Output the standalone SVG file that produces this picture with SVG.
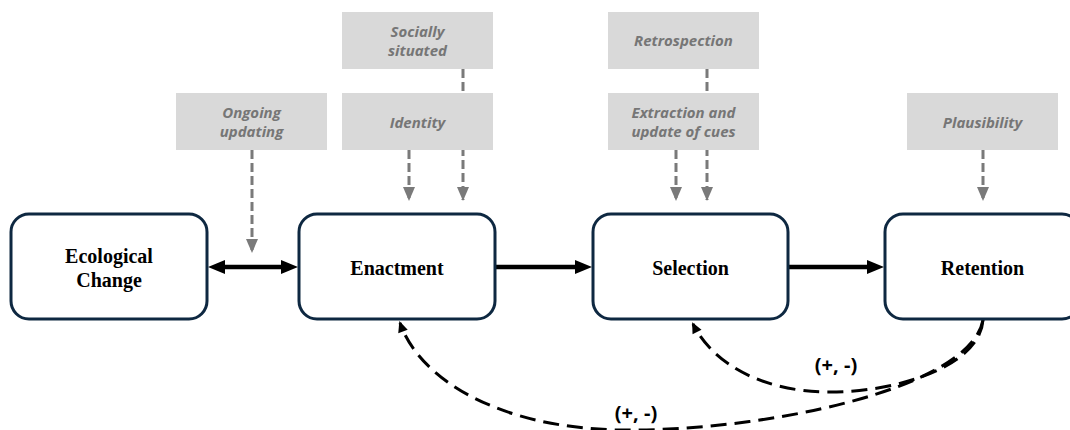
<svg xmlns="http://www.w3.org/2000/svg" width="1070" height="430" viewBox="0 0 1070 430">
<style>
.box{fill:#fff;stroke:#0e2841;stroke-width:3}
.gbox{fill:#d9d9d9}
.main{font-family:"Liberation Serif",serif;font-weight:bold;font-size:20px;fill:#000;text-anchor:middle}
.gt{font-family:"Open Sans","Noto Sans",sans-serif;font-weight:bold;font-style:italic;font-size:15px;fill:#767676;text-anchor:middle}
.gd{stroke:#7a7a7a;stroke-width:3;stroke-dasharray:9,4;fill:none}
.solid{stroke:#000;stroke-width:4.5;fill:none}
.fb{stroke:#000;stroke-width:3;stroke-dasharray:16,8;fill:none}
.lbl{font-family:"Open Sans","Noto Sans",sans-serif;font-weight:bold;font-size:20px;fill:#000;text-anchor:middle}
</style>
<defs>
<marker id="ga" markerUnits="userSpaceOnUse" markerWidth="12" markerHeight="14" refX="6" refY="13" orient="0" overflow="visible">
<path d="M0,0 L12,0 L6,14 z" fill="#7a7a7a"/>
</marker>
<marker id="ba" markerUnits="userSpaceOnUse" markerWidth="17" markerHeight="14" refX="2" refY="7" orient="auto-start-reverse" overflow="visible">
<path d="M0,0 L17,7 L0,14 z" fill="#000"/>
</marker>
<marker id="sa" markerUnits="userSpaceOnUse" markerWidth="10" markerHeight="10" refX="9" refY="5" orient="auto" overflow="visible">
<path d="M0,0 L11,5 L0,10 z" fill="#000"/>
</marker>
</defs>
<g id="connectors">
<line class="gd" x1="252" y1="150" x2="252" y2="252" marker-end="url(#ga)"/>
<line class="gd" x1="409" y1="150" x2="409" y2="200" marker-end="url(#ga)"/>
<line class="gd" x1="463" y1="69" x2="463" y2="200" marker-end="url(#ga)"/>
<line class="gd" x1="676" y1="150" x2="676" y2="200" marker-end="url(#ga)"/>
<line class="gd" x1="707" y1="69" x2="707" y2="200" marker-end="url(#ga)"/>
<line class="gd" x1="983" y1="150" x2="983" y2="200" marker-end="url(#ga)"/>
<line class="solid" x1="223" y1="267" x2="283" y2="267" marker-start="url(#ba)" marker-end="url(#ba)"/>
<line class="solid" x1="495" y1="267" x2="577" y2="267" marker-end="url(#ba)"/>
<line class="solid" x1="788" y1="267" x2="869" y2="267" marker-end="url(#ba)"/>
<path class="fb" d="M983,320 C980,365 900,392 830,392 C760,392 712,362 693,324" marker-end="url(#sa)"/>
<path class="fb" d="M983,320 C970,390 760,432 620,430 C500,428 420,380 400,323" marker-end="url(#sa)"/>
<text class="lbl" x="836" y="372">(+, -)</text>
<text class="lbl" x="636" y="420">(+, -)</text>
</g>
<g id="ongoing">
<rect class="gbox" x="176" y="93" width="151" height="57"/>
<text class="gt" x="251.5" y="118">Ongoing</text>
<text class="gt" x="251.5" y="137">updating</text>
</g>
<g id="socially">
<rect class="gbox" x="342" y="12" width="151" height="57"/>
<text class="gt" x="417.5" y="37">Socially</text>
<text class="gt" x="417.5" y="56">situated</text>
</g>
<g id="identity">
<rect class="gbox" x="342" y="93" width="151" height="57"/>
<text class="gt" x="417.5" y="128">Identity</text>
</g>
<g id="retrospection">
<rect class="gbox" x="608" y="12" width="151" height="57"/>
<text class="gt" x="683.5" y="46">Retrospection</text>
</g>
<g id="extraction">
<rect class="gbox" x="608" y="93" width="151" height="57"/>
<text class="gt" x="683.5" y="118">Extraction and</text>
<text class="gt" x="683.5" y="137">update of cues</text>
</g>
<g id="plausibility">
<rect class="gbox" x="907" y="93" width="151" height="57"/>
<text class="gt" x="982.5" y="128">Plausibility</text>
</g>
<g id="ecological">
<rect class="box" x="11" y="214" width="196" height="105" rx="18"/>
<text class="main" x="109" y="263">Ecological</text>
<text class="main" x="109" y="287">Change</text>
</g>
<g id="enactment">
<rect class="box" x="299" y="214" width="196" height="105" rx="18"/>
<text class="main" x="397" y="275">Enactment</text>
</g>
<g id="selection">
<rect class="box" x="593" y="214" width="195" height="105" rx="18"/>
<text class="main" x="690.5" y="275">Selection</text>
</g>
<g id="retention">
<rect class="box" x="885" y="214" width="195" height="105" rx="18"/>
<text class="main" x="982.5" y="275">Retention</text>
</g>
</svg>
